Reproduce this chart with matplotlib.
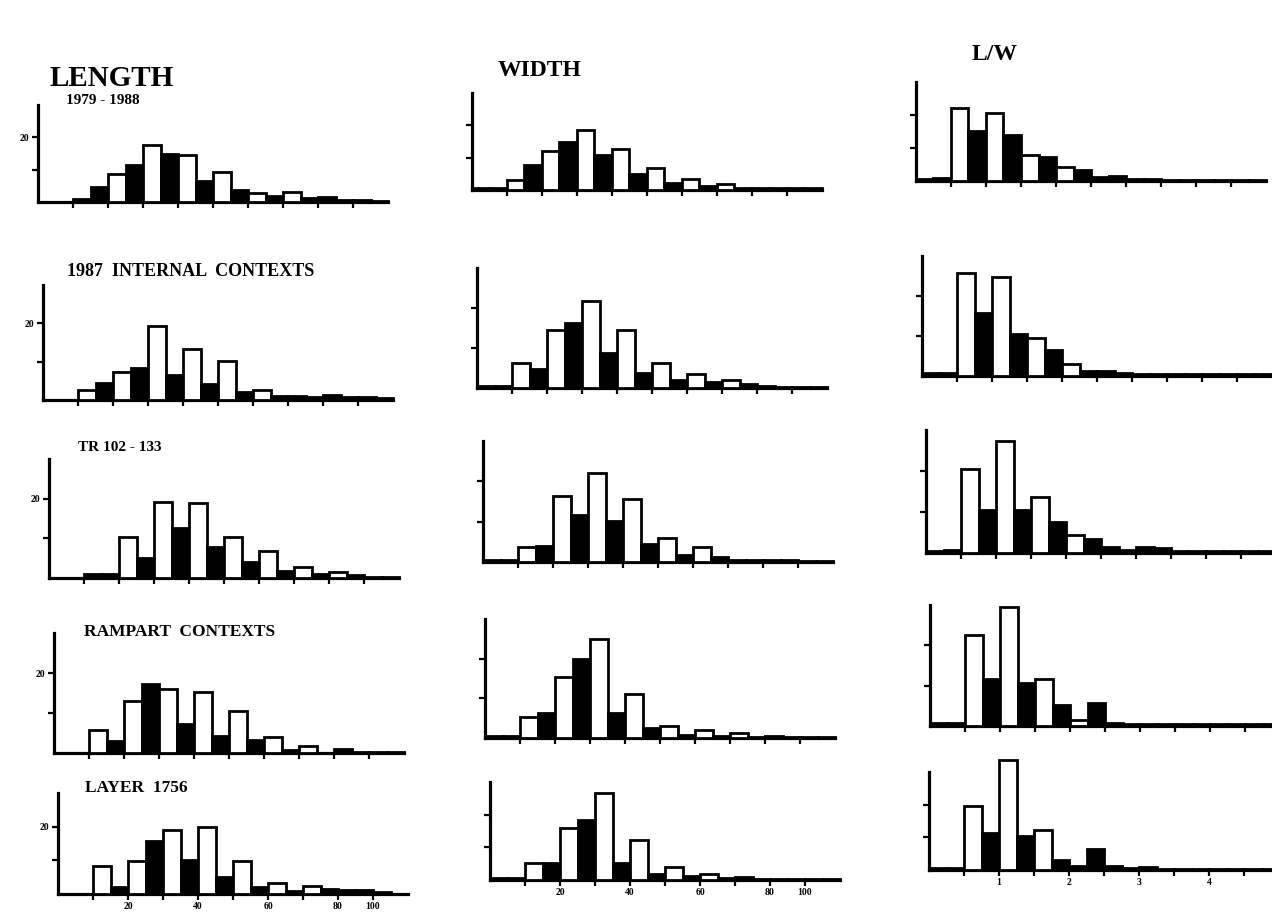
import numpy as np
import matplotlib.pyplot as plt

# bin starts (5 mm bins for length/width, 0.25 bins for L/W)
size_bins = np.arange(0, 100, 5)
ratio_bins = np.arange(0, 5, 0.25)

row_titles = ["1979 - 1988", "1987  INTERNAL  CONTEXTS", "TR 102 - 133",
              "RAMPART  CONTEXTS", "LAYER  1756"]

# LENGTH counts
length_1 = [0, 0, 1, 4.7, 8.6, 11.3, 17.5, 14.8, 14.6, 6.5, 9.3, 3.6, 2.9, 1.8, 3.2, 1.2, 1.4, 0.6, 0.5, 0.4]
length_2 = [0, 0, 2.6, 4.5, 7.2, 8.4, 19.3, 6.6, 13.3, 4.3, 10.2, 2.0, 2.7, 1.0, 1.0, 0.7, 1.2, 0.8, 0.8, 0.5]
length_3 = [0, 0, 1.1, 1.1, 10.3, 5.0, 19.1, 12.5, 18.9, 7.9, 10.3, 4.0, 6.8, 1.8, 2.7, 1.0, 1.4, 0.7, 0.3, 0.3]
length_4 = [0, 0, 5.8, 2.9, 13.1, 17.3, 16.0, 7.2, 15.3, 4.2, 10.5, 3.2, 4.1, 0.7, 1.8, 0, 1.1, 0.3, 0.3, 0.3]
length_5 = [0, 0, 8.3, 2.2, 9.9, 15.6, 19.1, 10.2, 19.9, 5.0, 9.9, 2.0, 3.2, 1.0, 2.4, 1.5, 1.2, 1.2, 0.5, 0]
length_fill = ["kkkkwkwkwkwkwkwkkkkk", "kkwkwkwkwkwkwkkkkkkk", "kkkkwkwkwkwkwkwkwkkk",
               "kkwkwkwkwkwkwkwkkkkk", "kkwkwkwkwkwkwkwkkkkk"]

# WIDTH counts
width_1 = [0.5, 0.5, 3.1, 7.7, 12.2, 14.7, 18.5, 10.7, 12.8, 5.0, 6.7, 2.2, 3.4, 1.2, 1.9, 0.7, 0.5, 0.5, 0.5, 0.5]
width_2 = [0.5, 0.5, 6.2, 4.8, 14.5, 16.3, 21.7, 8.8, 14.5, 3.7, 6.2, 2.1, 3.5, 1.5, 2.1, 1.1, 0.6, 0.3, 0.3, 0.3]
width_3 = [0.5, 0.5, 3.7, 4.0, 16.3, 11.7, 22.0, 10.2, 15.7, 4.5, 5.9, 1.8, 3.7, 1.2, 0.5, 0.5, 0.5, 0.5, 0.3, 0.3]
width_4 = [0.5, 0.5, 5.2, 6.2, 15.5, 19.8, 25.0, 6.2, 11.2, 2.5, 2.9, 0.8, 1.9, 0.5, 1.3, 0.3, 0.6, 0.3, 0.3, 0.3]
width_5 = [0.5, 0.5, 5.1, 5.3, 16.0, 18.4, 26.7, 5.2, 12.3, 1.7, 4.0, 1.1, 1.8, 0.5, 0.8, 0.3, 0.3, 0.3, 0.3, 0.3]
width_fill = ["kkwkwkwkwkwkwkwkkkkk", "kkwkwkwkwkwkwkwkkkkk", "kkwkwkwkwkwkwkkkkkkk",
              "kkwkwkwkwkwkwkwkkkkk", "kkwkwkwkwkwkwkkkkkkk"]

# L/W counts
ratio_1 = [0.5, 0.8, 22, 15.3, 20.7, 13.8, 8.0, 7.3, 4.2, 3.2, 1.2, 1.5, 0.5, 0.5, 0.4, 0.4, 0.4, 0.4, 0.4, 0.4]
ratio_2 = [0.8, 0.8, 25.8, 15.7, 24.8, 10.5, 9.4, 6.5, 2.9, 1.3, 1.2, 0.8, 0.6, 0.5, 0.5, 0.5, 0.6, 0.5, 0.5, 0.5]
ratio_3 = [0.5, 0.8, 20.5, 10.5, 27.2, 10.6, 13.6, 7.5, 4.5, 3.5, 1.4, 0.8, 1.5, 1.2, 0.5, 0.5, 0.5, 0.5, 0.5, 0.5]
ratio_4 = [0.8, 0.8, 22.5, 11.6, 29.4, 10.6, 11.6, 5.2, 1.5, 5.7, 0.8, 0.5, 0.5, 0.5, 0.5, 0.5, 0.5, 0.5, 0.5, 0.5]
ratio_5 = [0.5, 0.5, 19.5, 11.4, 33.8, 10.5, 12.3, 3.0, 1.2, 6.3, 1.2, 0.6, 0.8, 0.3, 0.3, 0.3, 0.3, 0.3, 0.3, 0.3]
ratio_fill = ["kkwkwkwkwkkkkkkkkkkk", "kkwkwkwkwkkkkkkkkkkk", "kkwkwkwkwkkkkkkkkkkk",
              "kkwkwkwkwkkkkkkkkkkk", "kkwkwkwkkkkkkkkkkkkk"]

size_ticks = np.arange(10, 100, 10)
size_ticklabels = ['', '20', '', '40', '', '60', '', '80', '100']
ratio_ticks = np.arange(0.5, 5, 0.5)
ratio_ticklabels = ['', '1', '', '2', '', '3', '', '4', '']

W, H = 1272, 913
fig = plt.figure(figsize=(W / 100, H / 100), dpi=100)
serif = 'Liberation Serif'

# panel boxes in pixels: x of y-axis, baseline, top of y-axis
length_box = [(38, 202, 105), (43, 400, 285), (49, 578, 459), (54, 753, 633), (58, 894, 793)]
width_box = [(472, 190, 93), (477, 388, 268), (483, 562, 441), (485, 738, 619), (490, 880, 782)]
ratio_box = [(916, 181, 82), (922, 376, 256), (926, 553, 430), (930, 726, 605), (929, 870, 772)]


def panel(box, bins, counts, fills, binw, xmax, ticks, ticklabels, ylab, bottom):
    x0, base, top = box
    ax = fig.add_axes([x0 / W, 1 - base / H, 350 / W, (base - top) / H])
    ax.bar(bins, counts, width=binw, align='edge',
           color=['white' if f == 'w' else 'black' for f in fills],
           edgecolor='black', linewidth=2.0, clip_on=False, zorder=3)
    ax.set_xlim(0, xmax)
    ax.set_ylim(0, 30)
    for s in ['top', 'right']:
        ax.spines[s].set_visible(False)
    for s in ['left', 'bottom']:
        ax.spines[s].set_linewidth(2.3)
    ax.set_facecolor('none')
    ax.set_xticks(ticks)
    ax.set_yticks([10, 20])
    ax.set_yticklabels(['', '20'] if ylab else ['', ''],
                       fontsize=7, fontweight='bold', family=serif)
    if bottom:
        ax.set_xticklabels(ticklabels, fontsize=7, fontweight='bold', family=serif)
    else:
        ax.set_xticklabels([''] * len(ticks))
    ax.tick_params(axis='both', direction='out', length=4, width=1.6, pad=2)
    return ax


lengths = [length_1, length_2, length_3, length_4, length_5]
widths = [width_1, width_2, width_3, width_4, width_5]
ratios = [ratio_1, ratio_2, ratio_3, ratio_4, ratio_5]

for i in range(5):
    last = i == 4
    panel(length_box[i], size_bins, lengths[i], length_fill[i], 5, 100,
          size_ticks, size_ticklabels, True, last)
    panel(width_box[i], size_bins, widths[i], width_fill[i], 5, 100,
          size_ticks, size_ticklabels, False, last)
    panel(ratio_box[i], ratio_bins, ratios[i], ratio_fill[i], 0.25, 5,
          ratio_ticks, ratio_ticklabels, False, last)

# row titles (left column)
title_pos = [(66, 101, 11), (67, 272, 13), (78, 447, 11), (84, 632, 12.5), (85, 788, 12.5)]
for t, (x, y, fs) in zip(row_titles, title_pos):
    fig.text(x / W, 1 - y / H, t, ha='left', va='center', fontsize=fs,
             fontweight='bold', family=serif)

# column headings
fig.text(112 / W, 1 - 79 / H, "LENGTH", ha='center', va='center', fontsize=21,
         fontweight='bold', family=serif)
fig.text(540 / W, 1 - 70 / H, "WIDTH", ha='center', va='center', fontsize=17,
         fontweight='bold', family=serif)
fig.text(995 / W, 1 - 55 / H, "L/W", ha='center', va='center', fontsize=17,
         fontweight='bold', family=serif)

fig.savefig('out.png', dpi=100, facecolor='white')
